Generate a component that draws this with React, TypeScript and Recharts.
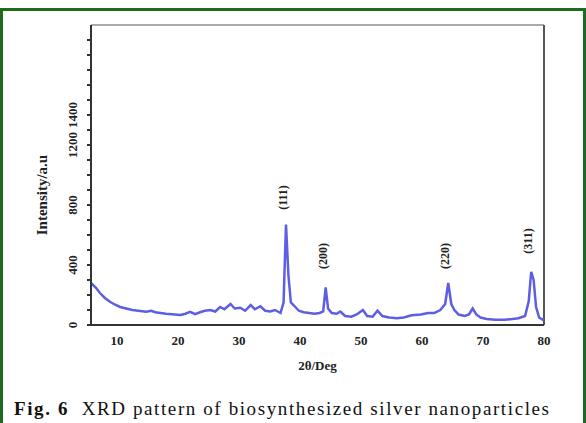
import { LineChart, Line, XAxis, YAxis, ReferenceLine, Label } from 'recharts'

// 2θ positions (deg) and intensities (a.u.)
const twoTheta = [
  5.73, 6.5, 7.2, 8.0, 8.9, 9.7, 10.5, 11.5, 12.5, 13.8, 14.8, 15.6, 16.3, 17.1, 18.0, 19.0, 20.4, 21.2, 22.0,
  22.8, 23.6, 24.4, 25.3, 26.1, 26.9, 27.6, 28.6, 29.3, 30.2, 31.0, 31.9, 32.6, 33.5, 34.3, 35.1, 35.9, 36.8,
  37.3, 37.7, 38.1, 38.5, 39.0, 39.8, 40.6, 41.5, 42.4, 43.2, 43.8, 44.2, 44.6, 45.2, 46.0, 46.6, 47.4, 48.4,
  49.3, 50.3, 51.0, 51.9, 52.7, 53.5, 54.6, 55.9, 57.0, 58.3, 59.8, 61.0, 62.0, 63.0, 63.8, 64.3, 64.8, 65.3,
  66.0, 67.0, 67.7, 68.3, 68.9, 69.6, 70.6, 72.0, 73.5, 74.8, 75.8, 76.9, 77.5, 77.9, 78.3, 78.7, 79.2, 79.8, 80.0,
]
const intensity = [
  280, 250, 213, 180, 153, 135, 120, 110, 100, 93, 88, 95, 85, 80, 75, 72, 67, 75, 87,
  72, 85, 95, 100, 90, 120, 105, 140, 110, 115, 95, 133, 105, 125, 95, 90, 100, 80,
  150, 670, 330, 150, 130, 95, 85, 80, 75, 80, 90, 250, 110, 80, 75, 90, 60, 55,
  70, 100, 60, 55, 95, 60, 50, 45, 50, 65, 70, 80, 80, 100, 140, 280, 140, 100,
  70, 60, 70, 110, 70, 50, 40, 35, 35, 40, 45, 60, 160, 355, 300, 120, 50, 35, 40,
]

const xTicks = [10, 20, 30, 40, 50, 60, 70, 80]
const yMinorTicks = [0, 100, 200, 300, 400, 500, 600, 700, 800, 900, 1000, 1100, 1200, 1300, 1400, 1500, 1600, 1700, 1800, 1900]
const yLabelled = [0, 400, 800, 1200, 1400]

const peakPos = [37.7, 44.2, 64.3, 77.9]
const peakLabelAt = [850, 460, 460, 560]
const peakNames = ['(111)', '(200)', '(220)', '(311)']

const data = twoTheta.map((t, i) => ({ t, v: intensity[i] }))
const peaks = peakPos.map((t, i) => ({ t, y: peakLabelAt[i], name: peakNames[i] }))

const serif = '"Liberation Serif", "Times New Roman", serif'
const blue = '#5e5ee4'
const axisColor = '#333'

function YTick(props: any) {
  const { x, y, payload } = props
  if (!yLabelled.includes(payload.value)) return <g />
  const tx = x - 8
  return (
    <text
      x={tx}
      y={y}
      transform={`rotate(-90 ${tx} ${y})`}
      textAnchor="middle"
      fontFamily={serif}
      fontWeight="bold"
      fontSize={13}
      fill="#222"
    >
      {payload.value}
    </text>
  )
}

function XTick(props: any) {
  const { x, y, payload } = props
  return (
    <text x={x} y={y + 12} textAnchor="middle" fontFamily={serif} fontWeight="bold" fontSize={13} fill="#222">
      {payload.value}
    </text>
  )
}

function PeakLabel(props: any) {
  const { viewBox, value } = props
  const cx = viewBox.x - 3
  const cy = viewBox.y
  return (
    <text
      x={cx}
      y={cy}
      transform={`rotate(-90 ${cx} ${cy})`}
      textAnchor="middle"
      dominantBaseline="central"
      fontFamily={serif}
      fontWeight="bold"
      fontSize={12}
      fill="#222"
    >
      {value}
    </text>
  )
}

export default function App() {
  return (
    <div style={{ position: 'absolute', left: 0, top: 0, width: 586, height: 423, overflow: 'hidden', background: '#fff' }}>
      <div
        style={{
          position: 'absolute',
          left: 0,
          top: 8,
          width: 586,
          height: 440,
          boxSizing: 'border-box',
          border: '3px solid #1d6b1d',
        }}
      />
      <div style={{ position: 'absolute', left: 0, top: 0 }}>
        <LineChart width={586} height={423} data={data} margin={{ top: 25, right: 42, bottom: 68, left: 51 }}>
          <XAxis
            dataKey="t"
            type="number"
            domain={[5.73, 80]}
            ticks={xTicks}
            allowDataOverflow
            height={30}
            tick={<XTick />}
            tickLine={false}
            axisLine={{ stroke: axisColor, strokeWidth: 2 }}
          >
            <Label
              value="2θ/Deg"
              position="bottom"
              offset={6}
              style={{ fontFamily: serif, fontWeight: 'bold', fontSize: 13, fill: '#222' }}
            />
          </XAxis>
          <YAxis
            type="number"
            domain={[0, 2000]}
            ticks={yMinorTicks}
            interval={0}
            width={40}
            tickSize={4}
            tickLine={{ stroke: axisColor, strokeWidth: 2 }}
            tick={<YTick />}
            axisLine={{ stroke: axisColor, strokeWidth: 2 }}
          >
            <Label
              content={(p: any) => {
                const vb = p.viewBox
                const cx = vb.x - 9
                const cy = vb.y + vb.height / 2 + 20
                return (
                  <text
                    x={cx}
                    y={cy}
                    transform={`rotate(-90 ${cx} ${cy})`}
                    textAnchor="middle"
                    dominantBaseline="central"
                    fontFamily={serif}
                    fontWeight="bold"
                    fontSize={15}
                    fill="#222"
                  >
                    Intensity/a.u
                  </text>
                )
              }}
            />
          </YAxis>
          <ReferenceLine y={2000} stroke="#aaa" strokeWidth={2} />
          <ReferenceLine x={80} stroke="#555" strokeWidth={2} />
          {peaks.map((p) => (
            <ReferenceLine
              key={p.name}
              segment={[
                { x: p.t, y: p.y },
                { x: p.t, y: p.y },
              ]}
              stroke="none"
              label={<PeakLabel value={p.name} />}
            />
          ))}
          <Line type="linear" dataKey="v" stroke={blue} strokeWidth={2.5} dot={false} isAnimationActive={false} />
        </LineChart>
      </div>
      <div
        style={{
          position: 'absolute',
          left: 14,
          top: 398,
          lineHeight: '22px',
          fontFamily: serif,
          fontSize: 19,
          letterSpacing: 1.6,
          color: '#111',
          whiteSpace: 'nowrap',
        }}
      >
        <b>Fig. 6</b>&nbsp; XRD pattern of biosynthesized silver nanoparticles
      </div>
    </div>
  )
}
